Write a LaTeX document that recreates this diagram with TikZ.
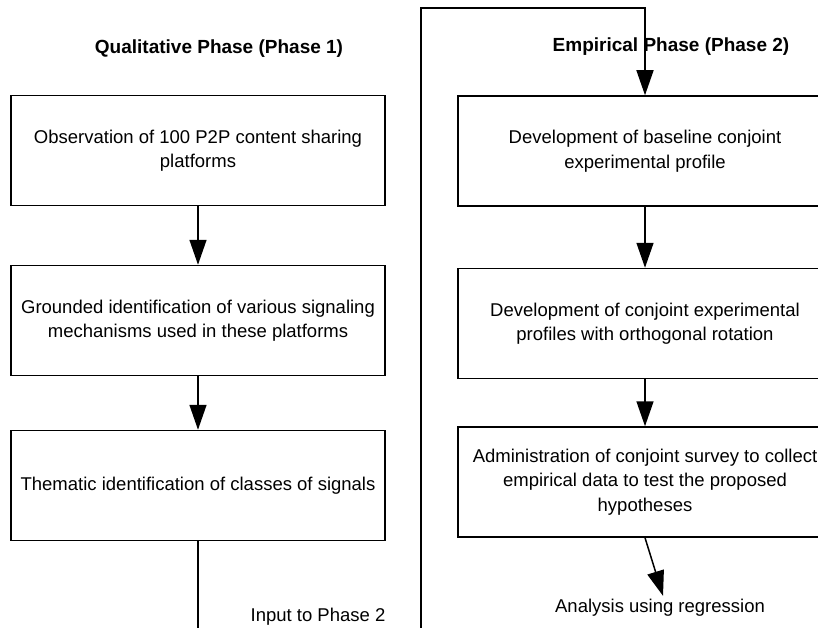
\documentclass[tikz,border=0pt]{standalone}
\usepackage{fontspec}
\setmainfont{Liberation Sans}
\usetikzlibrary{arrows.meta}

\begin{document}
\begin{tikzpicture}[
    x=1pt, y=-1pt,
    phasebox/.style={draw, line width=1.5pt, minimum width=374pt, minimum height=110pt, align=center, inner sep=0pt, font=\fontsize{18.5}{24.5}\selectfont},
    heading/.style={font=\fontsize{19}{23}\selectfont\bfseries},
    plain/.style={font=\fontsize{18.5}{22}\selectfont},
    flow/.style={-{Triangle[length=25pt,width=17pt]}, line width=1.5pt},
    link/.style={line width=1.5pt}
]

% page frame (the figure is cut at the right and bottom)
\useasboundingbox (0,0) rectangle (818,628);
\clip (0,0) rectangle (818,628);

% Qualitative phase
\node[heading] (qtitle) at (219,49) {Qualitative Phase (Phase 1)};
\node[phasebox] (q1) at (198,150.5) {Observation of 100 P2P content sharing\\platforms};
\node[phasebox] (q2) at (198,320.5) {Grounded identification of various signaling\\mechanisms used in these platforms};
\node[phasebox] (q3) at (198,485.5) {Thematic identification of classes of signals};
\node[plain] (qin) at (318,617) {Input to Phase 2};

% Empirical phase
\node[heading] (etitle) at (671,47) {Empirical Phase (Phase 2)};
\node[phasebox] (e1) at (645,151) {Development of baseline conjoint\\experimental profile};
\node[phasebox] (e2) at (645,323.5) {Development of conjoint experimental\\profiles with orthogonal rotation};
\node[phasebox] (e3) at (645,482) {Administration of conjoint survey to collect\\empirical data to test the proposed\\hypotheses};
\node[plain] (ean) at (660,608) {Analysis using regression};

% connectors
\coordinate (qend) at (198,628);
\coordinate (feedlow) at (421,628);
\coordinate (feedtop) at (421,8);

\draw[flow] (q1.south) -- (q2.north);
\draw[flow] (q2.south) -- (q3.north);
\draw[link] (q3.south) -- (qend);

\draw[flow] (feedlow) -- (feedtop) -| (e1.north);
\draw[flow] (e1.south) -- (e2.north);
\draw[flow] (e2.south) -- (e3.north);
\draw[flow] (e3.south) -- ([xshift=3pt]ean.north);

\end{tikzpicture}
\end{document}
